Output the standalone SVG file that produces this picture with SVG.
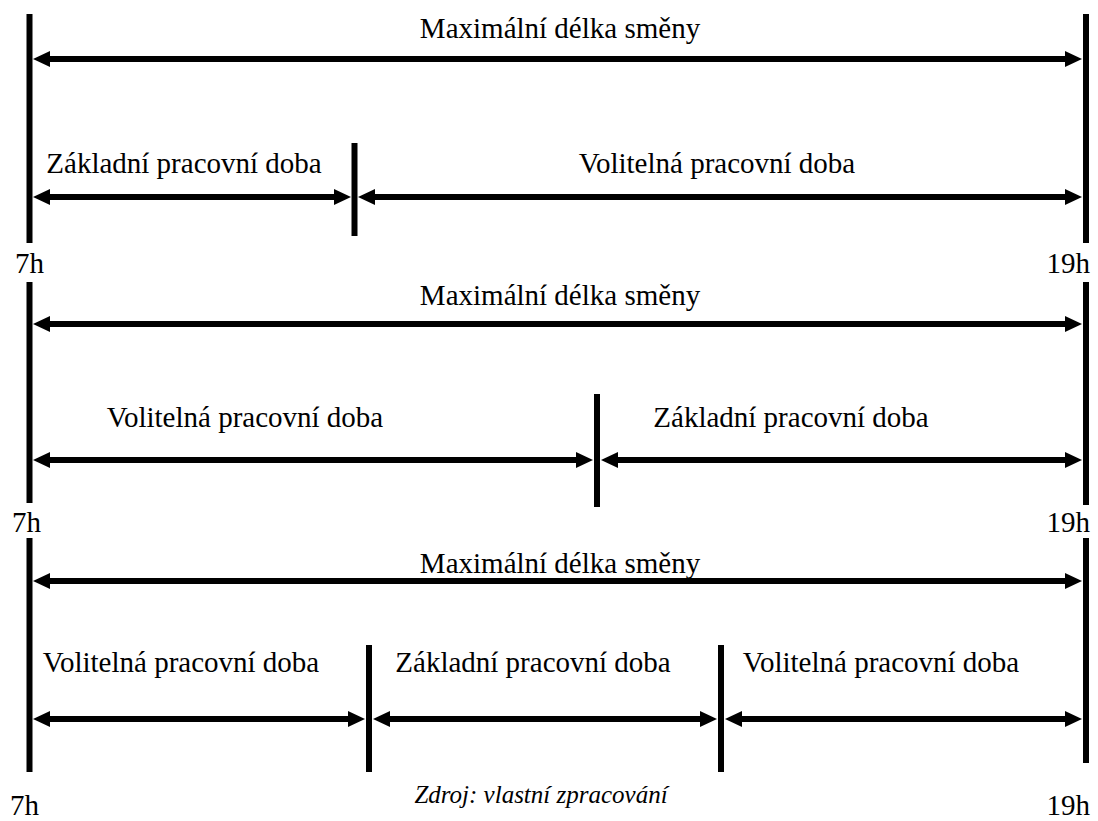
<svg xmlns="http://www.w3.org/2000/svg" width="1098" height="821" viewBox="0 0 1098 821">
<style>
text{font-family:"Liberation Serif","Times New Roman",Times,"DejaVu Serif",serif;fill:#000}
.t{font-size:29px}
.src{font-size:25px;font-style:italic}
.v{stroke:#000;stroke-width:6;fill:none}
.a{stroke:#000;stroke-width:6;fill:none;marker-start:url(#ah);marker-end:url(#ah)}
</style>
<defs>
<marker id="ah" viewBox="0 -8 17 16" markerWidth="17" markerHeight="16" refX="1" refY="0" markerUnits="userSpaceOnUse" orient="auto-start-reverse">
<path d="M0,-8 L17,0 L0,8 z" fill="#000"/>
</marker>
</defs>
<rect width="1098" height="821" fill="#fff"/>
<g id="section1">
<line class="v" x1="29.5" y1="14" x2="29.5" y2="243"/>
<line class="v" x1="1086" y1="14" x2="1086" y2="243"/>
<line class="v" x1="354.5" y1="143" x2="354.5" y2="236"/>
<text class="t" x="560" y="38" text-anchor="middle">Maximální délka směny</text>
<text class="t" x="184" y="173" text-anchor="middle">Základní pracovní doba</text>
<text class="t" x="717" y="173" text-anchor="middle">Volitelná pracovní doba</text>
<text class="t" x="15" y="273">7h</text>
<text class="t" x="1090" y="273" text-anchor="end">19h</text>
</g>
<g id="section2">
<line class="v" x1="29.5" y1="282" x2="29.5" y2="503"/>
<line class="v" x1="1086" y1="282" x2="1086" y2="505"/>
<line class="v" x1="597" y1="394" x2="597" y2="507"/>
<text class="t" x="560" y="305" text-anchor="middle">Maximální délka směny</text>
<text class="t" x="245" y="427" text-anchor="middle">Volitelná pracovní doba</text>
<text class="t" x="791" y="427" text-anchor="middle">Základní pracovní doba</text>
<text class="t" x="12" y="532">7h</text>
<text class="t" x="1090" y="532" text-anchor="end">19h</text>
</g>
<g id="section3">
<line class="v" x1="29.5" y1="538" x2="29.5" y2="772"/>
<line class="v" x1="1086" y1="538" x2="1086" y2="763"/>
<line class="v" x1="369" y1="645" x2="369" y2="772"/>
<line class="v" x1="721" y1="645" x2="721" y2="772"/>
<text class="t" x="560" y="573" text-anchor="middle">Maximální délka směny</text>
<text class="t" x="181" y="672" text-anchor="middle">Volitelná pracovní doba</text>
<text class="t" x="533" y="672" text-anchor="middle">Základní pracovní doba</text>
<text class="t" x="881" y="672" text-anchor="middle">Volitelná pracovní doba</text>
<text class="t" x="10" y="815">7h</text>
<text class="t" x="1090" y="815" text-anchor="end">19h</text>
<text class="src" x="541" y="803" text-anchor="middle">Zdroj: vlastní zpracování</text>
</g>
<g id="connectors">
<line class="a" x1="49" y1="59" x2="1066" y2="59"/>
<line class="a" x1="49" y1="197" x2="335" y2="197"/>
<line class="a" x1="374" y1="197" x2="1066" y2="197"/>
<line class="a" x1="49" y1="324" x2="1066" y2="324"/>
<line class="a" x1="49" y1="460" x2="577" y2="460"/>
<line class="a" x1="617" y1="460" x2="1066" y2="460"/>
<line class="a" x1="49" y1="581" x2="1066" y2="581"/>
<line class="a" x1="49" y1="719" x2="349" y2="719"/>
<line class="a" x1="389" y1="719" x2="701" y2="719"/>
<line class="a" x1="741" y1="719" x2="1066" y2="719"/>
</g>
</svg>
